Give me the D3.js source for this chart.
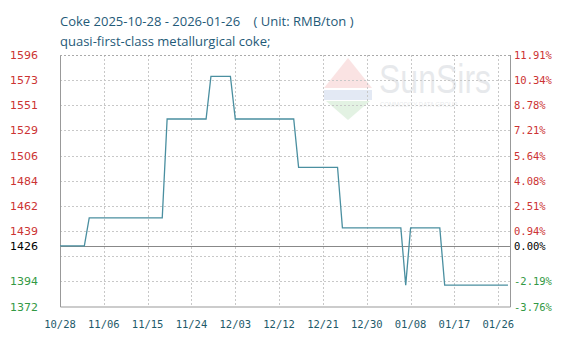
<!DOCTYPE html>
<html><head><meta charset="utf-8">
<script src="https://cdn.jsdelivr.net/npm/d3@7"></script>
<style>body{margin:0;background:#fff}svg{display:block}</style>
</head><body>
<svg id="c" width="577" height="343"></svg>
<script>
const titleText = "Coke 2025-10-28 - 2026-01-26    ( Unit: RMB/ton )";
const subtitleText = "quasi-first-class metallurgical coke;";
const baseValue = 1426;
const yMin = 1372, yMax = 1596;
const yTickLabels = ["1596","1573","1551","1529","1506","1484","1462","1439","","1394","1372"];
const pctTickLabels = ["11.91%","10.34%","8.78%","7.21%","5.64%","4.08%","2.51%","0.94%","","-2.19%","-3.76%"];
const xTickLabels = ["10/28","11/06","11/15","11/24","12/03","12/12","12/21","12/30","01/08","01/17","01/26"];
const xTickDates = ["2025-10-28","2025-11-06","2025-11-15","2025-11-24","2025-12-03","2025-12-12","2025-12-21","2025-12-30","2026-01-08","2026-01-17","2026-01-26"];
const dates = ["2025-10-28","2025-11-02","2025-11-03","2025-11-18","2025-11-19","2025-11-27","2025-11-28","2025-12-02","2025-12-03","2025-12-15","2025-12-16","2025-12-24","2025-12-25","2026-01-06","2026-01-07","2026-01-08","2026-01-14","2026-01-15","2026-01-28"];
const prices = [1426,1426,1451,1451,1539,1539,1577,1577,1539,1539,1496,1496,1442,1442,1391,1442,1442,1391,1391];

const parse = d3.timeParse("%Y-%m-%d");
const svg = d3.select("#c");
const L = 60, R = 510, T = 55, B = 306.5;

const x = d3.scaleTime().domain([parse("2025-10-28"), new Date(2026,0,28,10)]).range([L, R]);
const y = d3.scaleLinear().domain([yMin, yMax]).range([B, T]);
const yTicks = d3.range(11).map(i => yMax - i*(yMax-yMin)/10);

// watermark (faint)
const wm = svg.append("g").attr("opacity", 0.13);
wm.append("path").attr("d","M324,88 L348,58 L372,88 Z").attr("fill","#e03030");
wm.append("path").attr("d","M326,101 L370,101 L348,120 Z").attr("fill","#30a030");
wm.append("rect").attr("x",324).attr("y",90).attr("width",48).attr("height",10).attr("fill","#3060b0");
wm.append("text").attr("transform","translate(379,93) scale(0.8,1)").attr("font-family","Arial, Liberation Sans, sans-serif").attr("font-size",40)
  .attr("fill","#506070").text("SunSirs");
wm.append("text").attr("transform","translate(380,107) scale(0.8,1)").attr("font-family","Arial, Liberation Sans, sans-serif").attr("font-size",7.5).attr("fill","#506070")
  .text("COMMODITY DATA GROUP");

// grid
svg.append("g").selectAll("line").data(yTicks.slice(1,-1)).join("line")
  .attr("x1",L).attr("x2",R).attr("y1",d=>Math.round(y(d))+0.5).attr("y2",d=>Math.round(y(d))+0.5)
  .attr("stroke","#c8c8c8").attr("stroke-dasharray","2,2");
svg.append("g").selectAll("line").data(xTickDates.slice(1)).join("line")
  .attr("x1",d=>Math.round(x(parse(d)))+0.5).attr("x2",d=>Math.round(x(parse(d)))+0.5).attr("y1",T).attr("y2",B)
  .attr("stroke","#c8c8c8").attr("stroke-dasharray","2,2");
// base line
svg.append("line").attr("x1",L).attr("x2",R).attr("y1",Math.round(y(baseValue))+0.5).attr("y2",Math.round(y(baseValue))+0.5)
  .attr("stroke","#888").attr("stroke-width",1);
// border: solid left/right/bottom, dotted top
svg.append("path").attr("d",`M${L+0.5},${T} V${B+0.5} H${R+0.5} V${T}`).attr("fill","none").attr("stroke","#999");
svg.append("line").attr("x1",L).attr("x2",R).attr("y1",T+0.5).attr("y2",T+0.5).attr("stroke","#aaa").attr("stroke-dasharray","2,2");

// line
const line = d3.line().x((d,i)=>x(parse(dates[i]))).y(d=>y(d));
svg.append("path").datum(prices).attr("d",line).attr("fill","none").attr("stroke","#4a8fa0").attr("stroke-width",1.3);

// left labels
const colorFor = v => v > baseValue ? "#cc3333" : (v < baseValue ? "#339944" : "#000");
svg.append("g").selectAll("text").data(yTicks).join("text")
  .attr("x",38).attr("y",d=>y(d)+4).attr("text-anchor","end")
  .attr("font-family","Tahoma, DejaVu Sans, sans-serif").attr("font-size",11)
  .attr("fill",d=>colorFor(d)).text((d,i)=>yTickLabels[i]);
svg.append("text").attr("x",38).attr("y",y(baseValue)+4).attr("text-anchor","end")
  .attr("font-family","Tahoma, DejaVu Sans, sans-serif").attr("font-size",11).attr("fill","#000").text(String(baseValue));
// right labels
svg.append("g").selectAll("text").data(yTicks).join("text")
  .attr("x",514).attr("y",d=>y(d)+4).attr("text-anchor","start")
  .attr("font-family","DejaVu Sans Mono, monospace").attr("font-size",10.5)
  .attr("fill",d=>colorFor(d)).text((d,i)=>pctTickLabels[i]);
svg.append("text").attr("x",514).attr("y",y(baseValue)+4)
  .attr("font-family","DejaVu Sans Mono, monospace").attr("font-size",10.5).attr("fill","#000").text("0.00%");
// x labels
svg.append("g").selectAll("text").data(xTickDates).join("text")
  .attr("x",d=>x(parse(d))).attr("y",328).attr("text-anchor","middle")
  .attr("font-family","DejaVu Sans Mono, monospace").attr("font-size",10.5)
  .attr("fill","#1e5a6a").text((d,i)=>xTickLabels[i]);
// titles
svg.append("text").attr("x",60).attr("y",26).attr("font-family","Open Sans, DejaVu Sans, sans-serif").attr("font-size",13)
  .attr("fill","#1f5a78").style("white-space","pre").text(titleText);
svg.append("text").attr("x",60).attr("y",46).attr("font-family","Open Sans, DejaVu Sans, sans-serif").attr("font-size",13)
  .attr("fill","#1f5a78").text(subtitleText);
</script>
</body></html>
